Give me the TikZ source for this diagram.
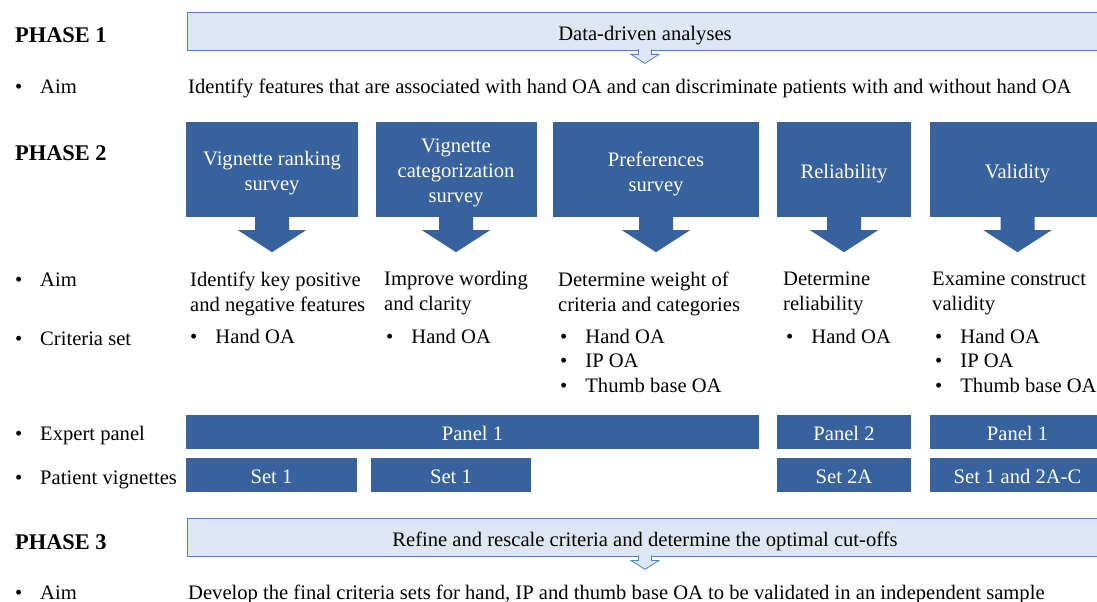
\documentclass[tikz,border=0pt]{standalone}
\usepackage{fontspec}
\setmainfont{Liberation Serif}
\definecolor{boxblue}{RGB}{56,98,157}
\definecolor{lightfill}{RGB}{221,231,243}
\definecolor{lightline}{RGB}{79,129,189}
\begin{document}
\begin{tikzpicture}[x=1pt,y=-1pt,
  every node/.style={font=\fontsize{20.6}{25}\selectfont, inner sep=0pt},
  phase/.style={anchor=base west, font=\fontsize{22.4}{26}\selectfont\bfseries},
  lbl/.style={anchor=base west},
  cell/.style={anchor=north west, align=left},
  lightbox/.style={draw=lightline, fill=lightfill, thick, minimum height=38, text height=21.4pt, text depth=3pt},
  darkbox/.style={fill=boxblue, minimum height=95},
  boxtxt/.style={text=white, align=center},
  bar/.style={fill=boxblue, text=white, minimum height=34, text height=20pt, text depth=3pt}]
\useasboundingbox (0,0) rectangle (1097,602);
%Фаза 1
\node[phase] (ph1) at (15,43) {PHASE 1};
\node[lightbox, minimum width=916] (data) at (645,31) {Data-driven analyses};
\filldraw[lightline, fill=lightfill, thick, shift={(data.south)}] (-6.5,-1) -- (-6.5,4) -- (-14,4) -- (0,13) -- (14,4) -- (6.5,4) -- (6.5,-1);
\node[lbl] (b1) at (15,93) {\textbullet};
\node[lbl] (aim1) at (40,93) {Aim};
\node[lbl] (aimtxt1) at (188,93) {Identify features that are associated with hand OA and can discriminate patients with and without hand OA};
%Фаза 2
\node[phase] (ph2) at (15,160) {PHASE 2};
\node[darkbox, minimum width=172] (rank) at (272,169.5) {};
\node[darkbox, minimum width=161] (categ) at (456,169.5) {};
\node[darkbox, minimum width=206] (pref) at (656,169.5) {};
\node[darkbox, minimum width=134] (rel) at (844,169.5) {};
\node[darkbox, minimum width=175] (val) at (1017.5,169.5) {};
\node[boxtxt] (ranktxt) at ([yshift=-4pt]rank.center) {Vignette ranking\\survey};
\node[boxtxt] (categtxt) at ([yshift=-3pt]categ.center) {Vignette\\categorization\\survey};
\node[boxtxt] (preftxt) at ([yshift=-4pt]pref.center) {Preferences\\survey};
\node[boxtxt] (reltxt) at ([yshift=-4pt]rel.center) {Reliability};
\node[boxtxt] (valtxt) at ([yshift=-4pt]val.center) {Validity};
%Стрелки вниз
\foreach \n in {rank,categ,pref,rel,val}
  \fill[boxblue, shift={(\n.south)}] (-17,-1) -- (-17,13) -- (-34,13) -- (0,35) -- (34,13) -- (17,13) -- (17,-1) -- cycle;
\node[lbl] (b2) at (15,286) {\textbullet};
\node[lbl] (aim2) at (40,286) {Aim};
\node[lbl] (b3) at (15,345) {\textbullet};
\node[lbl] (crit) at (40,345) {Criteria set};
\node[cell] (aimrank) at (190,271.5) {Identify key positive\\and negative features};
\node[cell] (aimcateg) at (384,271.5) {Improve wording\\and clarity};
\node[cell] (aimpref) at (558,271.5) {Determine weight of\\criteria and categories};
\node[cell] (aimrel) at (783,271.5) {Determine\\reliability};
\node[cell] (aimval) at (932,271.5) {Examine construct\\validity};
\node[cell] (crrank) at (190,329.5) {\textbullet\hspace{18pt}Hand OA};
\node[cell] (crcateg) at (386,329.5) {\textbullet\hspace{18pt}Hand OA};
\node[cell] (crpref) at (560,329.5) {\textbullet\hspace{18pt}Hand OA\\[-1pt]\textbullet\hspace{18pt}IP OA\\\textbullet\hspace{18pt}Thumb base OA};
\node[cell] (crrel) at (786,329.5) {\textbullet\hspace{18pt}Hand OA};
\node[cell] (crval) at (935,329.5) {\textbullet\hspace{18pt}Hand OA\\[-1pt]\textbullet\hspace{18pt}IP OA\\\textbullet\hspace{18pt}Thumb base OA};
\node[lbl] (b4) at (15,440) {\textbullet};
\node[lbl] (expert) at (40,440) {Expert panel};
\node[bar, minimum width=573] (panA) at (472.5,431.5) {Panel 1};
\node[bar, minimum width=134] (panB) at (844,431.5) {Panel 2};
\node[bar, minimum width=175] (panC) at (1017.5,431.5) {Panel 1};
\node[lbl] (b5) at (15,484) {\textbullet};
\node[lbl] (patient) at (40,484) {Patient vignettes};
\node[bar, minimum width=171] (setA) at (271.5,475) {Set 1};
\node[bar, minimum width=160] (setB) at (451,475) {Set 1};
\node[bar, minimum width=134] (setC) at (844,475) {Set 2A};
\node[bar, minimum width=175] (setD) at (1017.5,475) {Set 1 and 2A-C};
%Фаза 3
\node[phase] (ph3) at (15,549) {PHASE 3};
\node[lightbox, minimum width=916] (refine) at (645,537) {Refine and rescale criteria and determine the optimal cut-offs};
\filldraw[lightline, fill=lightfill, thick, shift={(refine.south)}] (-6.5,-1) -- (-6.5,4) -- (-14,4) -- (0,13) -- (14,4) -- (6.5,4) -- (6.5,-1);
\node[lbl] (b6) at (15,599) {\textbullet};
\node[lbl] (aim3) at (40,599) {Aim};
\node[lbl] (aimtxt3) at (188,599) {Develop the final criteria sets for hand, IP and thumb base OA to be validated in an independent sample};
\end{tikzpicture}
\end{document}
